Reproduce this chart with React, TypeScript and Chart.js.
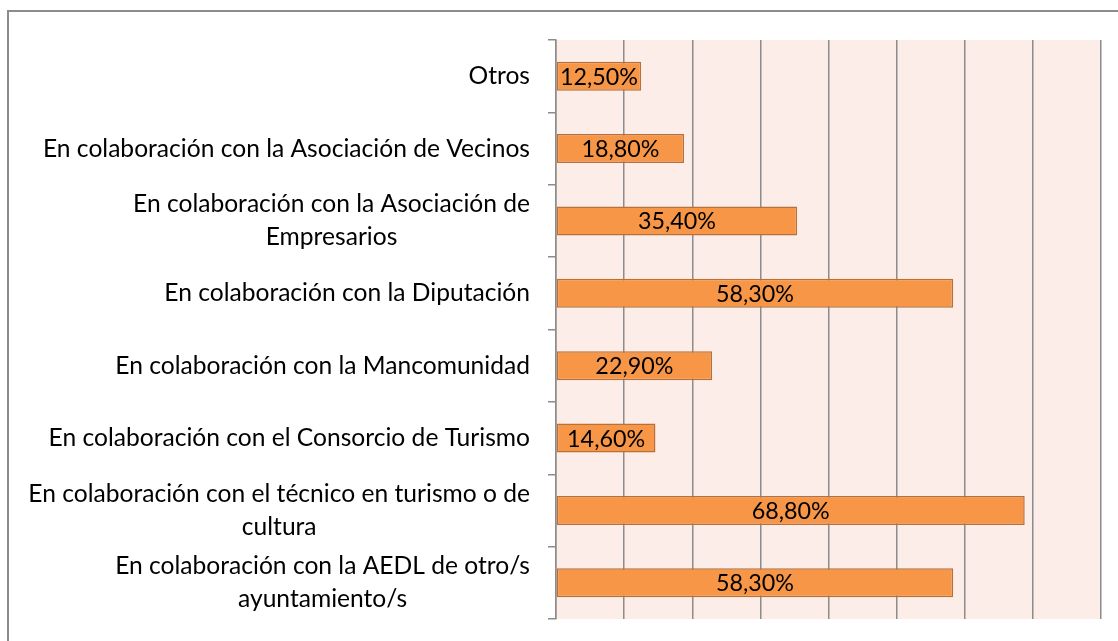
import React, { useEffect, useRef } from "react";
import { Chart, registerables } from "chart.js";

Chart.register(...registerables);

const categories: string[][] = [
  ["Otros"],
  ["En colaboración con la Asociación de Vecinos"],
  ["En colaboración con la Asociación de", "Empresarios"],
  ["En colaboración con la Diputación"],
  ["En colaboración con la Mancomunidad"],
  ["En colaboración con el Consorcio de Turismo"],
  ["En colaboración con el técnico en turismo o de", "cultura"],
  ["En colaboración con la AEDL de otro/s", "ayuntamiento/s"],
];

const values: number[] = [12.5, 18.8, 35.4, 58.3, 22.9, 14.6, 68.8, 58.3];

const axisMin = 0;
const axisMax = 80;
const axisStep = 10;

const FONT = "Lato, 'Open Sans', sans-serif";
const CAT_FONT_SIZE = 24.6;
const VAL_FONT_SIZE = 23.3;
const LINE_H = 33;

const fmt = (v: number) => v.toFixed(2).replace(".", ",") + "%";

const bgPlugin = {
  id: "plotBg",
  beforeDraw(chart: any) {
    const { ctx, chartArea } = chart;
    if (!chartArea) return;
    ctx.save();
    ctx.fillStyle = "#FCEDE8";
    ctx.fillRect(chartArea.left, chartArea.top, chartArea.right - chartArea.left, chartArea.bottom - chartArea.top);
    ctx.restore();
  },
};

const labelsPlugin = {
  id: "customLabels",
  afterDraw(chart: any) {
    const { ctx } = chart;
    const yScale = chart.scales.y;
    ctx.save();
    ctx.font = `${CAT_FONT_SIZE}px ${FONT}`;
    ctx.fillStyle = "#000000";
    ctx.textAlign = "center";
    ctx.textBaseline = "middle";
    const rightEdge = yScale.right - 26;
    categories.forEach((lines, i) => {
      const cy = yScale.getPixelForTick(i);
      const w = Math.max(...lines.map((l) => ctx.measureText(l).width));
      const cx = rightEdge - w / 2;
      const startY = cy - ((lines.length - 1) * LINE_H) / 2;
      lines.forEach((l, j) => ctx.fillText(l, cx, startY + j * LINE_H));
    });
    // data labels
    ctx.font = `${VAL_FONT_SIZE}px ${FONT}`;
    const meta = chart.getDatasetMeta(0);
    meta.data.forEach((bar: any, i: number) => {
      const x = (bar.x + bar.base) / 2;
      ctx.fillText(fmt(values[i]), x, bar.y + 1);
    });
    ctx.restore();
  },
};

export default function App() {
  const ref = useRef<HTMLCanvasElement | null>(null);
  useEffect(() => {
    if (!ref.current) return;
    const chart = new Chart(ref.current, {
      type: "bar",
      data: {
        labels: categories.map((c) => c.join(" ")),
        datasets: [
          {
            data: values,
            backgroundColor: "#F79646",
            borderColor: "#B8703A",
            borderWidth: 1.5,
            borderSkipped: false,
            categoryPercentage: 0.8,
            barPercentage: 0.5,
          },
        ],
      },
      options: {
        indexAxis: "y",
        animation: false,
        responsive: true,
        maintainAspectRatio: false,
        layout: { padding: { top: 40, bottom: 22, right: 17, left: 0 } },
        plugins: { legend: { display: false }, tooltip: { enabled: false }, title: { display: false } },
        scales: {
          x: {
            min: axisMin,
            max: axisMax,
            ticks: { display: false, stepSize: axisStep },
            grid: { color: "#8C8C8C", lineWidth: 1.5, drawTicks: false },
            border: { display: false },
            afterFit: (s: any) => {
              s.height = 0;
            },
          },
          y: {
            ticks: { display: false },
            grid: { drawOnChartArea: false, drawTicks: true, tickLength: 8, color: "#8C8C8C", lineWidth: 1.5, offset: true },
            border: { display: true, color: "#8C8C8C", width: 1.5 },
            afterFit: (s: any) => {
              s.width = 556;
            },
          },
        },
      },
      plugins: [bgPlugin, labelsPlugin],
    });
    return () => chart.destroy();
  }, []);

  return (
    <div style={{ position: "fixed", left: 0, top: 0, width: 1118, height: 641, overflow: "hidden", background: "#fff" }}>
      <div
        style={{
          position: "absolute",
          left: 7,
          top: 10,
          width: 1300,
          height: 800,
          border: "2px solid #8C8C8C",
          boxSizing: "border-box",
        }}
      />
      <div style={{ position: "absolute", left: 0, top: 0, width: 1118, height: 641 }}>
        <canvas ref={ref} />
      </div>
    </div>
  );
}
